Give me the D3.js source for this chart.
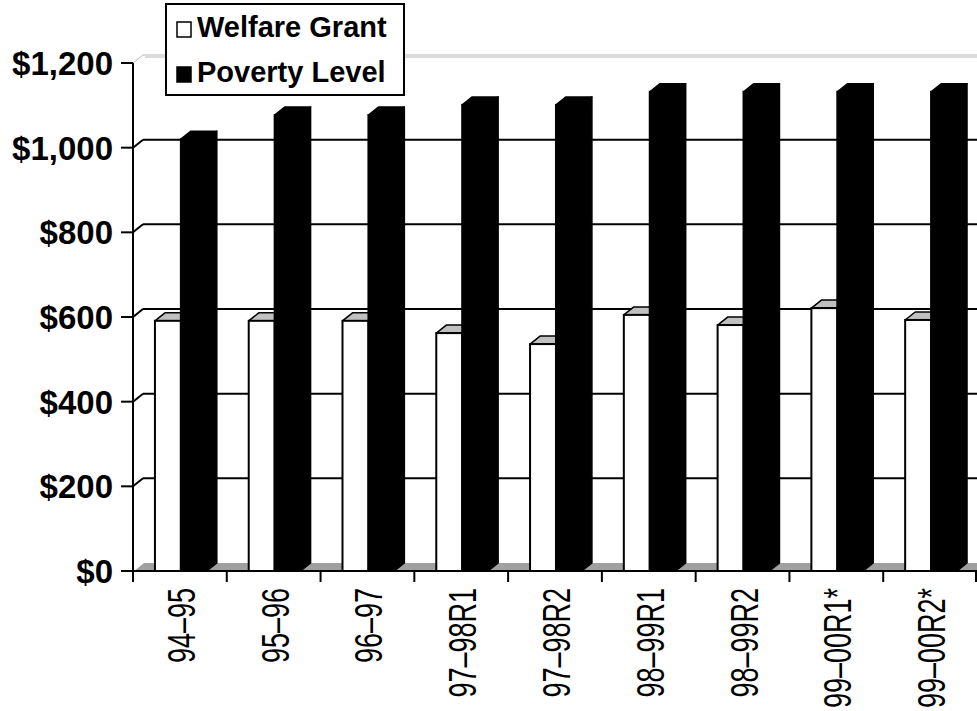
<!DOCTYPE html>
<html>
<head>
<meta charset="utf-8">
<script src="https://cdn.jsdelivr.net/npm/d3@7/dist/d3.min.js"></script>
<style>
  body { margin: 0; background: #fff; }
  svg { display: block; font-family: Arial, "Liberation Sans", sans-serif; }
</style>
</head>
<body>
<div id="chart"></div>
<script>
(function () {
  'use strict';

  // ── data ─────────────────────────────
  var categories = ['94–95', '95–96', '96–97', '97–98R1', '97–98R2', '98–99R1', '98–99R2', '99–00R1*', '99–00R2*'];
  var series = ['Welfare Grant', 'Poverty Level'];
  var welfareGrant = [591, 591, 591, 562, 536, 605, 581, 621, 593];
  var povertyLevel = [1020, 1077, 1077, 1101, 1101, 1132, 1132, 1132, 1132];
  var yTicks = [0, 200, 400, 600, 800, 1000, 1200];

  var W = 977, H = 711;
  var DX = 10, DY = -8;           // 3-D depth offset
  var left = 133, right = 977, floorY = 571, topY = 63;

  var svg = d3.select('#chart').append('svg')
    .attr('width', W)
    .attr('height', H);

  var y = d3.scaleLinear().domain([0, 1200]).range([floorY, topY]);
  var x = d3.scaleBand().domain(categories).range([left, right]);
  var bw = x.bandwidth();
  var xs = d3.scaleBand().domain(series).range([bw * 0.234, bw * 0.787]);
  var w = xs.bandwidth();
  var fmt = function (v) { return '$' + d3.format(',')(v); };

  // ── walls and gridlines ──────────────
  var grid = svg.append('g');
  yTicks.forEach(function (v) {
    if (v === 0) return;
    var yy = y(v);
    var col = v === 1200 ? '#b8b8b8' : '#000';
    var sw = v === 1200 ? 1 : 2;
    grid.append('line')
      .attr('x1', left).attr('y1', yy)
      .attr('x2', left + DX).attr('y2', yy + DY)
      .attr('stroke', col).attr('stroke-width', sw);
    grid.append('line')
      .attr('x1', left + DX).attr('y1', yy + DY)
      .attr('x2', right + DX).attr('y2', yy + DY)
      .attr('stroke', col).attr('stroke-width', sw);
    if (v === 1200) {
      grid.append('line')
        .attr('x1', left + DX + 2).attr('y1', yy + DY + 2)
        .attr('x2', right + DX).attr('y2', yy + DY + 2)
        .attr('stroke', col).attr('stroke-width', 1);
    }
  });

  // floor
  svg.append('polygon')
    .attr('points', [[left, floorY], [right, floorY], [right + DX, floorY + DY], [left + DX, floorY + DY]].join(' '))
    .attr('fill', '#a0a0a0');
  svg.append('line')
    .attr('x1', left).attr('y1', floorY)
    .attr('x2', left + DX).attr('y2', floorY + DY)
    .attr('stroke', '#fff').attr('stroke-width', 1.5);

  // ── bars ─────────────────────────────
  var rows = categories.map(function (c, i) {
    return { cat: c, values: [welfareGrant[i], povertyLevel[i]] };
  });

  function drawBar(g, x0, v, dark) {
    var yt = y(v), yb = y(0);
    var stroke = '#000';
    // side face
    g.append('polygon')
      .attr('points', [[x0 + w, yt], [x0 + w + DX, yt + DY], [x0 + w + DX, yb + DY], [x0 + w, yb]].join(' '))
      .attr('fill', dark ? '#000' : '#808080')
      .attr('stroke', stroke).attr('stroke-width', 1.5).attr('stroke-linejoin', 'round');
    // top face
    g.append('polygon')
      .attr('points', [[x0, yt], [x0 + DX, yt + DY], [x0 + w + DX, yt + DY], [x0 + w, yt]].join(' '))
      .attr('fill', dark ? '#000' : '#c0c0c0')
      .attr('stroke', stroke).attr('stroke-width', 1.5).attr('stroke-linejoin', 'round');
    // front face
    g.append('rect')
      .attr('x', x0).attr('y', yt)
      .attr('width', w).attr('height', yb - yt)
      .attr('fill', dark ? '#000' : '#fff')
      .attr('stroke', stroke).attr('stroke-width', 2);
  }

  var bars = svg.append('g');
  rows.forEach(function (r) {
    series.forEach(function (s, j) {
      drawBar(bars, x(r.cat) + xs(s), r.values[j], j === 1);
    });
  });

  // ── axes ─────────────────────────────
  var axes = svg.append('g').attr('stroke', '#000').attr('stroke-width', 2);
  axes.append('line').attr('x1', left).attr('y1', topY).attr('x2', left).attr('y2', floorY + 1);
  axes.append('line').attr('x1', left - 1).attr('y1', floorY).attr('x2', right).attr('y2', floorY);
  yTicks.forEach(function (v) {
    axes.append('line').attr('x1', left - 12).attr('y1', y(v)).attr('x2', left).attr('y2', y(v));
  });
  categories.concat([null]).forEach(function (c) {
    var xx = c === null ? right - 1 : x(c);
    axes.append('line').attr('x1', xx).attr('y1', floorY).attr('x2', xx).attr('y2', floorY + 11);
  });

  svg.append('g').selectAll('text')
    .data(yTicks)
    .enter().append('text')
    .attr('x', 113)
    .attr('y', function (d) { return y(d); })
    .attr('dy', '0.36em')
    .attr('text-anchor', 'end')
    .attr('font-size', '33px')
    .attr('font-weight', 'bold')
    .text(fmt);

  svg.append('g').selectAll('text')
    .data(categories)
    .enter().append('text')
    .attr('transform', function (d) {
      return 'translate(' + (x(d) + bw / 2 + 15) + ',588) rotate(-90) scale(1,1.42)';
    })
    .attr('text-anchor', 'end')
    .attr('font-size', '27px')
    .text(function (d) { return d; });

  // ── legend ───────────────────────────
  var legend = svg.append('g');
  legend.append('rect')
    .attr('x', 166).attr('y', 4).attr('width', 238).attr('height', 91)
    .attr('fill', '#fff').attr('stroke', '#000').attr('stroke-width', 2);
  series.forEach(function (s, i) {
    var ly = 22 + i * 45;
    legend.append('rect')
      .attr('x', 177).attr('y', ly).attr('width', 14).attr('height', 15)
      .attr('fill', i === 0 ? '#fff' : '#000')
      .attr('stroke', '#000').attr('stroke-width', 1.5);
    legend.append('text')
      .attr('x', 197).attr('y', ly + 15)
      .attr('font-size', '29px')
      .attr('font-weight', 'bold')
      .text(s);
  });
})();
</script>
</body>
</html>
